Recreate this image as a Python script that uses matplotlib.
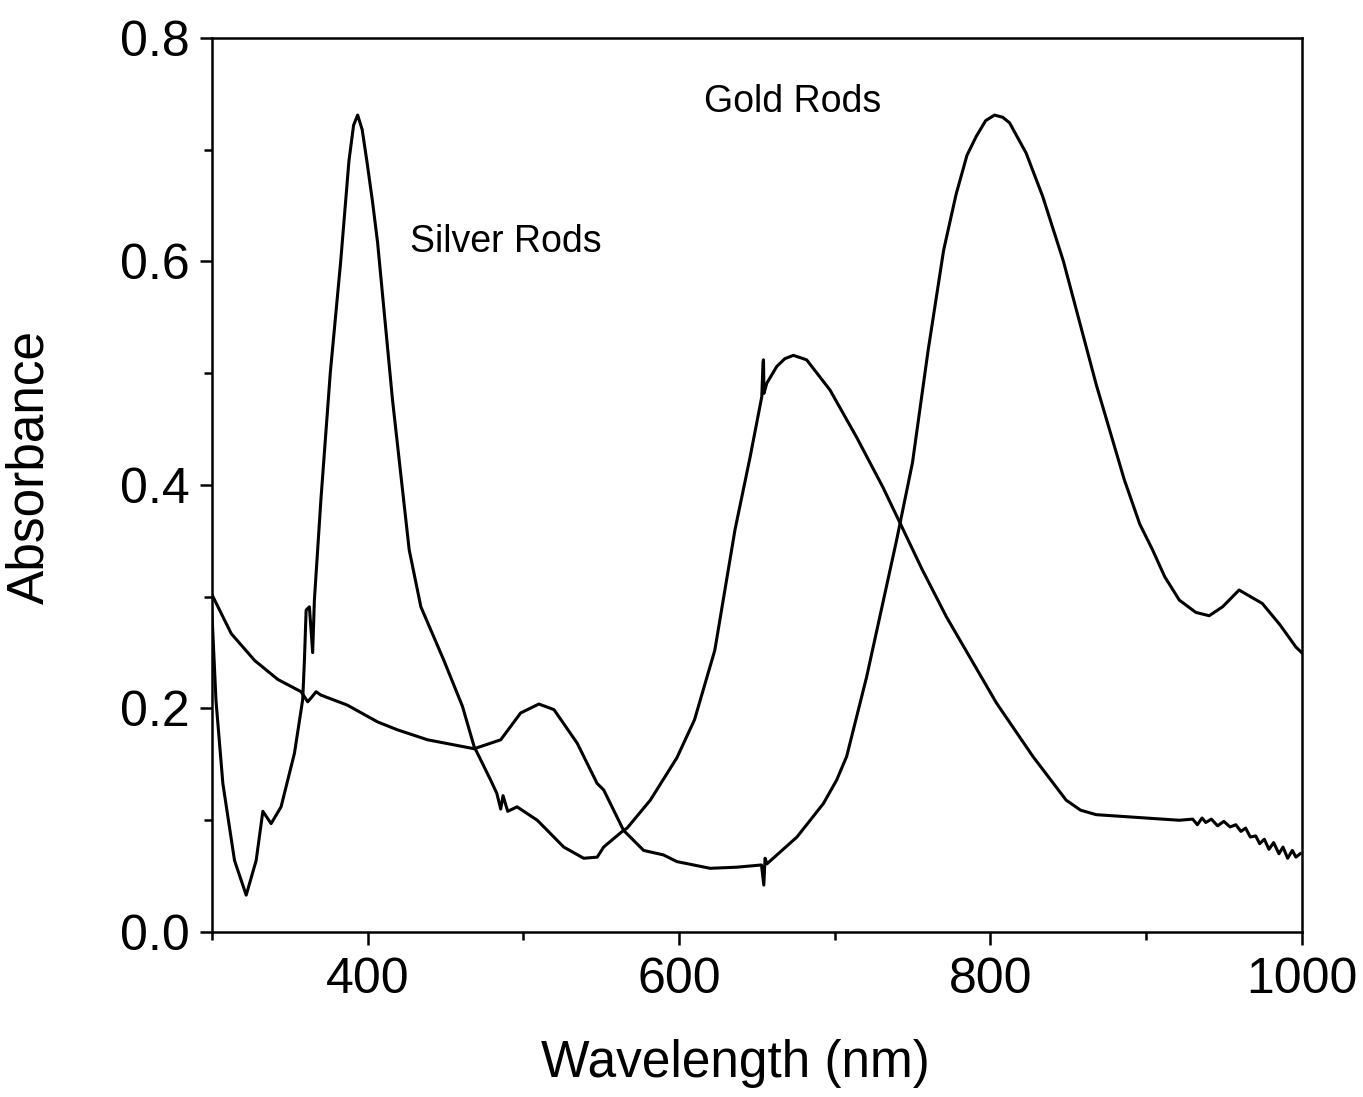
import numpy as np
import matplotlib.pyplot as plt
from matplotlib.ticker import MultipleLocator

# Silver rods spectrum
silver_wl = [299.4, 300.5, 302.6, 307.0, 314.5, 322.0, 328.4, 332.7, 338.0, 344.4,
             353.0, 358.3, 359.4, 360.5, 362.6, 364.7, 365.8, 370.0, 376.0, 382.7,
             388.0, 391.0, 393.6, 396.5, 399.5, 403.0, 406.4, 416.0, 426.7, 434.2,
             449.0, 460.9, 468.4, 479.0, 483.0, 485.5, 487.0, 490.0, 496.0, 509.0,
             526.0, 538.8, 547.5, 551.6, 564.4, 566.7, 581.6, 598.7, 610.0, 623.0,
             636.0, 645.7, 653.2, 654.0, 654.3, 654.6, 656.4, 662.8, 668.0, 673.5,
             682.0, 697.0, 714.0, 731.0, 742.0, 756.0, 771.8, 803.9, 827.4, 848.7,
             858.0, 868.0, 889.3, 921.4, 930.0, 933.0, 936.0, 938.4, 942.0, 946.0,
             950.0, 954.0, 957.7, 961.0, 964.0, 967.0, 970.5, 973.0, 976.0, 979.0,
             982.0, 985.4, 988.0, 991.0, 994.0, 996.3, 999.0]
silver_abs = [0.303, 0.270, 0.207, 0.133, 0.064, 0.033, 0.064, 0.108, 0.097, 0.112,
              0.160, 0.208, 0.243, 0.288, 0.291, 0.250, 0.297, 0.387, 0.500, 0.600,
              0.690, 0.722, 0.731, 0.718, 0.690, 0.655, 0.617, 0.476, 0.342, 0.291,
              0.243, 0.202, 0.166, 0.136, 0.124, 0.110, 0.122, 0.108, 0.112, 0.100,
              0.076, 0.066, 0.067, 0.076, 0.091, 0.093, 0.118, 0.156, 0.190, 0.252,
              0.360, 0.425, 0.479, 0.510, 0.512, 0.482, 0.491, 0.506, 0.513, 0.516,
              0.512, 0.485, 0.443, 0.398, 0.366, 0.325, 0.282, 0.205, 0.157, 0.118,
              0.109, 0.105, 0.103, 0.100, 0.101, 0.096, 0.102, 0.098, 0.101, 0.095,
              0.099, 0.094, 0.096, 0.090, 0.093, 0.085, 0.086, 0.079, 0.083, 0.074,
              0.080, 0.070, 0.076, 0.066, 0.073, 0.067, 0.070]

# Gold rods spectrum
gold_wl = [299.6, 312.4, 327.4, 342.3, 357.3, 361.5, 364.0, 366.9, 370.0, 387.0,
           406.4, 419.0, 438.5, 468.4, 485.5, 498.3, 510.0, 519.7, 534.6, 547.4,
           551.7, 564.4, 577.3, 590.0, 598.7, 620.0, 637.2, 653.0, 654.5, 655.3,
           656.5, 675.8, 692.8, 701.3, 707.7, 720.5, 729.0, 739.7, 750.0, 760.0,
           770.0, 778.0, 785.0, 791.0, 797.0, 802.7, 808.0, 812.4, 823.0, 833.7,
           847.0, 868.0, 886.0, 896.0, 904.2, 912.0, 921.4, 932.0, 940.6, 949.2,
           959.8, 974.7, 986.0, 996.3, 1000.0]
gold_abs = [0.303, 0.267, 0.243, 0.226, 0.215, 0.206, 0.210, 0.215, 0.212, 0.203,
            0.188, 0.181, 0.172, 0.164, 0.172, 0.196, 0.204, 0.199, 0.169, 0.133,
            0.127, 0.091, 0.073, 0.069, 0.063, 0.057, 0.058, 0.060, 0.042, 0.066,
            0.061, 0.085, 0.115, 0.136, 0.157, 0.228, 0.282, 0.350, 0.420, 0.520,
            0.610, 0.660, 0.695, 0.712, 0.726, 0.731, 0.729, 0.724, 0.697, 0.658,
            0.600, 0.490, 0.405, 0.365, 0.342, 0.318, 0.297, 0.286, 0.283, 0.291,
            0.306, 0.294, 0.275, 0.255, 0.250]

x_ticks = [400, 600, 800, 1000]
y_ticks = [0.0, 0.2, 0.4, 0.6, 0.8]

plt.rcParams['font.family'] = ['Liberation Sans', 'DejaVu Sans']

fig = plt.figure(figsize=(13.63, 10.97), dpi=100)
ax = fig.add_axes([0.1555, 0.1504, 0.7995, 0.815])

ax.plot(silver_wl, silver_abs, color='black', lw=2.2, solid_joinstyle='round')
ax.plot(gold_wl, gold_abs, color='black', lw=2.2, solid_joinstyle='round')

ax.text(427, 0.617, 'Silver Rods', fontsize=27, va='center', ha='left')
ax.text(616, 0.743, 'Gold Rods', fontsize=27, va='center', ha='left')

ax.set_xlim(300, 1000)
ax.set_ylim(0, 0.8)
ax.set_xticks(x_ticks)
ax.set_yticks(y_ticks)
ax.set_yticklabels([f'{v:.1f}' for v in y_ticks])
ax.xaxis.set_minor_locator(MultipleLocator(100))
ax.yaxis.set_minor_locator(MultipleLocator(0.1))
ax.tick_params(which='both', direction='out', top=False, right=False, width=1.8)
ax.tick_params(axis='x', which='major', length=9, labelsize=36, pad=9)
ax.tick_params(axis='y', which='major', length=9, labelsize=36, pad=7)
ax.tick_params(which='minor', length=6)
for sp in ax.spines.values():
    sp.set_linewidth(1.8)

ax.set_xlabel('Wavelength (nm)', fontsize=37)
ax.set_ylabel('Absorbance', fontsize=37)
ax.xaxis.set_label_coords(0.48, -0.12)
ax.yaxis.set_label_coords(-0.145, 0.52)

fig.savefig('out.png', dpi=100)
